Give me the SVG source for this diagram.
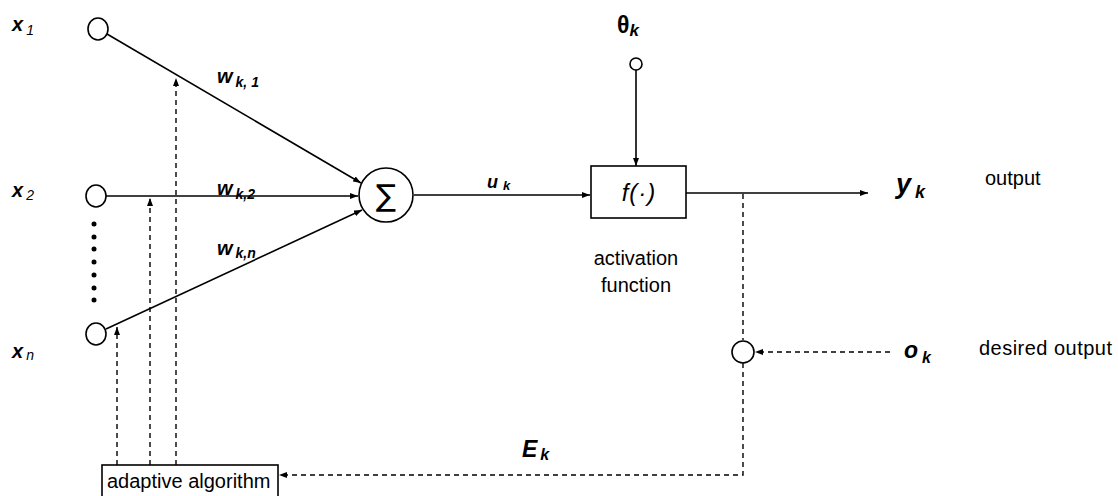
<svg xmlns="http://www.w3.org/2000/svg" width="1118" height="496" viewBox="0 0 1118 496">
<style>
.ln{stroke:#000;stroke-width:1.6;fill:none}
.ds{stroke:#000;stroke-width:1.4;fill:none;stroke-dasharray:5 4}
.nd{stroke:#000;stroke-width:1.6;fill:#fff}
.bi{font-family:"Liberation Sans",Arial,sans-serif;font-weight:bold;font-style:italic;fill:#000}
.tx{font-family:"Liberation Sans",Arial,sans-serif;font-size:20px;fill:#000}
</style>
<defs>
<marker id="ah" viewBox="0 0 8 6" refX="8" refY="3" markerWidth="8" markerHeight="6" markerUnits="userSpaceOnUse" orient="auto">
<path d="M0,0 L8,3 L0,6 Z" fill="#000"/>
</marker>
</defs>
<rect width="1118" height="496" fill="#fff"/>
<g id="connectors">
<line class="ln" x1="107" y1="34" x2="361" y2="183" marker-end="url(#ah)"/>
<line class="ln" x1="106" y1="196" x2="358" y2="196" marker-end="url(#ah)"/>
<line class="ln" x1="106" y1="329" x2="362" y2="210" marker-end="url(#ah)"/>
<line class="ln" x1="414" y1="195" x2="590" y2="195" marker-end="url(#ah)"/>
<line class="ln" x1="636" y1="70" x2="636" y2="166" marker-end="url(#ah)"/>
<line class="ln" x1="686" y1="193" x2="868" y2="193" marker-end="url(#ah)"/>
<line class="ds" x1="743" y1="194" x2="743" y2="340"/>
<line class="ds" x1="890" y1="352" x2="755" y2="352" marker-end="url(#ah)"/>
<polyline class="ds" points="743,363 743,475 279,475" marker-end="url(#ah)"/>
<line class="ds" x1="117" y1="465" x2="117" y2="327" marker-end="url(#ah)"/>
<line class="ds" x1="150" y1="465" x2="150" y2="198" marker-end="url(#ah)"/>
<line class="ds" x1="176" y1="465" x2="176" y2="78" marker-end="url(#ah)"/>
</g>
<g id="x1">
<ellipse class="nd" cx="98" cy="29" rx="10" ry="11"/>
<text class="bi" x="12" y="31" font-size="20">x<tspan font-size="14" font-weight="normal" dx="3" dy="4">1</tspan></text>
</g>
<g id="x2">
<ellipse class="nd" cx="96" cy="196" rx="10" ry="11"/>
<text class="bi" x="12" y="197" font-size="20">x<tspan font-size="14" font-weight="normal" dx="3" dy="3">2</tspan></text>
</g>
<g id="dots" fill="#000">
<circle cx="94" cy="224" r="2.5"/>
<circle cx="94" cy="237" r="2.5"/>
<circle cx="94" cy="249" r="2.5"/>
<circle cx="94" cy="262" r="2.5"/>
<circle cx="94" cy="275" r="2.5"/>
<circle cx="94" cy="288" r="2.5"/>
<circle cx="94" cy="300" r="2.5"/>
</g>
<g id="xn">
<ellipse class="nd" cx="96" cy="334" rx="10" ry="11"/>
<text class="bi" x="12" y="358" font-size="20">x<tspan font-size="14" font-weight="normal" dx="3" dy="2">n</tspan></text>
</g>
<g id="weights">
<text class="bi" x="217" y="83" font-size="20">w<tspan font-size="14" dx="3" dy="4">k, 1</tspan></text>
<text class="bi" x="217" y="195" font-size="20">w<tspan font-size="14" dx="3" dy="4">k,2</tspan></text>
<text class="bi" x="217" y="255" font-size="20">w<tspan font-size="14" dx="3" dy="3">k,n</tspan></text>
</g>
<g id="sum">
<circle class="nd" cx="386" cy="195" r="27"/>
<text x="386" y="206" font-family="'DejaVu Sans',sans-serif" font-size="30" text-anchor="middle">∑</text>
</g>
<g id="uk">
<text class="bi" x="487" y="188" font-size="18">u<tspan font-size="13" dx="5" dy="2">k</tspan></text>
</g>
<g id="theta">
<circle class="nd" cx="636" cy="64" r="6"/>
<text x="617" y="33" font-family="'Liberation Sans',Arial,sans-serif" font-weight="bold" font-size="23">θ<tspan font-style="italic" font-size="17" dy="3">k</tspan></text>
</g>
<g id="activation">
<rect class="nd" x="591" y="166" width="95" height="52"/>
<text x="639" y="201" font-family="'Liberation Sans',Arial,sans-serif" font-style="italic" font-size="24" text-anchor="middle" letter-spacing="1">f(·)</text>
<text class="tx" x="636" y="265" text-anchor="middle">activation</text>
<text class="tx" x="636" y="292" text-anchor="middle">function</text>
</g>
<g id="output">
<text class="bi" x="896" y="193" font-size="27">y<tspan font-size="18" dx="4" dy="5">k</tspan></text>
<text class="tx" x="985" y="185">output</text>
</g>
<g id="compare">
<circle class="nd" cx="743" cy="352" r="11"/>
</g>
<g id="desired">
<text class="bi" x="904" y="358" font-size="23">o<tspan font-size="16" dx="4" dy="5">k</tspan></text>
<text class="tx" x="979" y="355" textLength="133">desired output</text>
</g>
<g id="error">
<text class="bi" x="522" y="457" font-size="23">E<tspan font-size="16" dx="3" dy="3">k</tspan></text>
</g>
<g id="adaptive">
<rect class="nd" x="102" y="465" width="176" height="40"/>
<text class="tx" x="107" y="488">adaptive algorithm</text>
</g>
</svg>
